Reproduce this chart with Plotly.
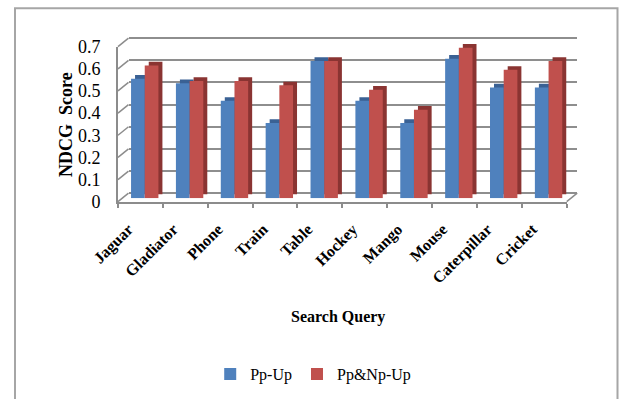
import plotly.graph_objects as go

# NDCG scores per search query
queries = ["Jaguar", "Gladiator", "Phone", "Train", "Table",
           "Hockey", "Mango", "Mouse", "Caterpillar", "Cricket"]
pp_up = [0.54, 0.52, 0.44, 0.34, 0.62, 0.44, 0.34, 0.63, 0.50, 0.50]
pp_np_up = [0.60, 0.53, 0.53, 0.51, 0.62, 0.49, 0.40, 0.68, 0.58, 0.62]
y_ticks = [0, 0.1, 0.2, 0.3, 0.4, 0.5, 0.6, 0.7]
y_tick_text = ["0", "0.1", "0.2", "0.3", "0.4", "0.5", "0.6", "0.7"]

W, H = 619, 399
SERIF = "Liberation Serif, Times New Roman, serif"

# front plane of the pseudo-3D frame, in pixels
X0, X1 = 118.0, 566.7     # left / right end of the category axis
Y0 = 201.7                # pixel row of value 0
PPU = 221.5               # pixels per unit of score

BLUE, BLUE_DARK = "#4F81BD", "#3A6194"
RED, RED_DARK = "#C0504D", "#8A3432"
GRID = "#8e8e8e"
AXIS = "#8c8c8c"


def xdom(dx):
    return [(X0 + dx) / W, (X1 + dx) / W]


def ydom(dy, lo, hi):
    return [1 - (Y0 + dy - lo * PPU) / H, 1 - (Y0 + dy - hi * PPU) / H]


# depth offsets (pixels) for back wall, bar side faces and bar front faces
BACK = (10.5, -8.5)
FACE = (4.3, -3.4)
SIDE = (8.3, -7.1)

fig = go.Figure()

# bar side/top faces (drawn first, shifted up-right)
for vals, col in ((pp_up, BLUE_DARK), (pp_np_up, RED_DARK)):
    fig.add_trace(go.Bar(x=queries, y=vals, marker=dict(color=col, line_width=0),
                         xaxis="x3", yaxis="y3", showlegend=False, hoverinfo="skip"))

# bar front faces
for name, vals, col in (("Pp-Up", pp_up, BLUE), ("Pp&Np-Up", pp_np_up, RED)):
    fig.add_trace(go.Bar(x=queries, y=vals, name=name,
                         marker=dict(color=col, line_width=0),
                         xaxis="x4", yaxis="y4"))

# invisible trace to hold the front axes
fig.add_trace(go.Scatter(x=queries, y=[None] * len(queries), xaxis="x", yaxis="y",
                         showlegend=False, hoverinfo="skip"))
# invisible trace to hold the back-wall grid
fig.add_trace(go.Scatter(x=queries, y=[None] * len(queries), xaxis="x2", yaxis="y2",
                         showlegend=False, hoverinfo="skip"))

hidden_x = dict(showgrid=False, zeroline=False, showticklabels=False, showline=False,
                ticks="", type="category", range=[-0.5, 9.5], automargin=False)
hidden_y = dict(showgrid=False, zeroline=False, showticklabels=False, showline=False,
                ticks="", automargin=False)

fig.update_layout(
    width=W, height=H,
    margin=dict(l=0, r=0, t=0, b=0, autoexpand=False),
    paper_bgcolor="white", plot_bgcolor="rgba(0,0,0,0)",
    barmode="group", bargap=0.39, bargroupgap=0,
    font=dict(family=SERIF, color="black"),
    xaxis=dict(domain=xdom(0), type="category", range=[-0.5, 9.5],
               showline=True, linecolor=AXIS, linewidth=2,
               ticks="outside", tickson="boundaries", ticklen=4, tickcolor=AXIS,
               tickwidth=1.5, tickangle=-45, showgrid=False, zeroline=False,
               ticklabelstandoff=10, ticklabelshift=-12, automargin=False,
               tickfont=dict(family=SERIF, size=16, color="black", weight="bold"),
               anchor="y"),
    yaxis=dict(domain=ydom(0, 0, 0.7), range=[0, 0.7], tickvals=y_ticks,
               ticktext=y_tick_text, showline=True, linecolor=AXIS, linewidth=2,
               ticks="", showgrid=False, zeroline=False, ticklabelstandoff=12,
               automargin=False,
               tickfont=dict(family=SERIF, size=18, color="black"), anchor="x"),
    xaxis2=dict(domain=xdom(BACK[0]), anchor="y2", **hidden_x),
    yaxis2=dict(domain=ydom(BACK[1], -0.01, 0.71), range=[-0.01, 0.71],
                tickvals=y_ticks, showgrid=True, gridcolor=GRID, gridwidth=2,
                zeroline=False, showticklabels=False, showline=False, ticks="",
                automargin=False, anchor="x2"),
    xaxis3=dict(domain=xdom(SIDE[0]), anchor="y3", **hidden_x),
    yaxis3=dict(domain=ydom(SIDE[1], 0, 0.75), range=[0, 0.75], anchor="x3", **hidden_y),
    xaxis4=dict(domain=xdom(FACE[0]), anchor="y4", **hidden_x),
    yaxis4=dict(domain=ydom(FACE[1], 0, 0.75), range=[0, 0.75], anchor="x4", **hidden_y),
    legend=dict(orientation="h", x=0.506, y=1 - 374 / H, xanchor="center", yanchor="middle",
                font=dict(family=SERIF, size=16, color="black"),
                bgcolor="rgba(0,0,0,0)", itemwidth=30, traceorder="normal"),
)

shapes = []
# diagonal tick marks joining the front value axis to the back wall
for v in y_ticks:
    yf = Y0 - v * PPU
    shapes.append(dict(type="line", xref="paper", yref="paper",
                       x0=X0 / W, y0=1 - yf / H,
                       x1=(X0 + BACK[0]) / W, y1=1 - (yf + BACK[1]) / H,
                       line=dict(color=AXIS, width=1.5)))
# floor edge at the right end
shapes.append(dict(type="line", xref="paper", yref="paper",
                   x0=X1 / W, y0=1 - Y0 / H,
                   x1=(X1 + BACK[0]) / W, y1=1 - (Y0 + BACK[1]) / H,
                   line=dict(color=AXIS, width=1.5)))
# chart frame
shapes.append(dict(type="rect", xref="paper", yref="paper",
                   x0=15 / W, y0=-0.05, x1=617.5 / W, y1=1 - 8.3 / H,
                   line=dict(color="#a6a6a6", width=2), fillcolor="rgba(0,0,0,0)",
                   layer="below"))
fig.update_layout(shapes=shapes)

fig.add_annotation(text="<b>Search Query</b>", xref="paper", yref="paper",
                   x=338 / W, y=1 - 316.7 / H, showarrow=False,
                   xanchor="center", yanchor="middle",
                   font=dict(family=SERIF, size=16, color="black"))
fig.add_annotation(text="<b>NDCG  Score</b>", xref="paper", yref="paper",
                   x=66 / W, y=1 - 125 / H, showarrow=False, textangle=-90,
                   xanchor="center", yanchor="middle",
                   font=dict(family=SERIF, size=18, color="black"))

fig.write_html("out.html")
